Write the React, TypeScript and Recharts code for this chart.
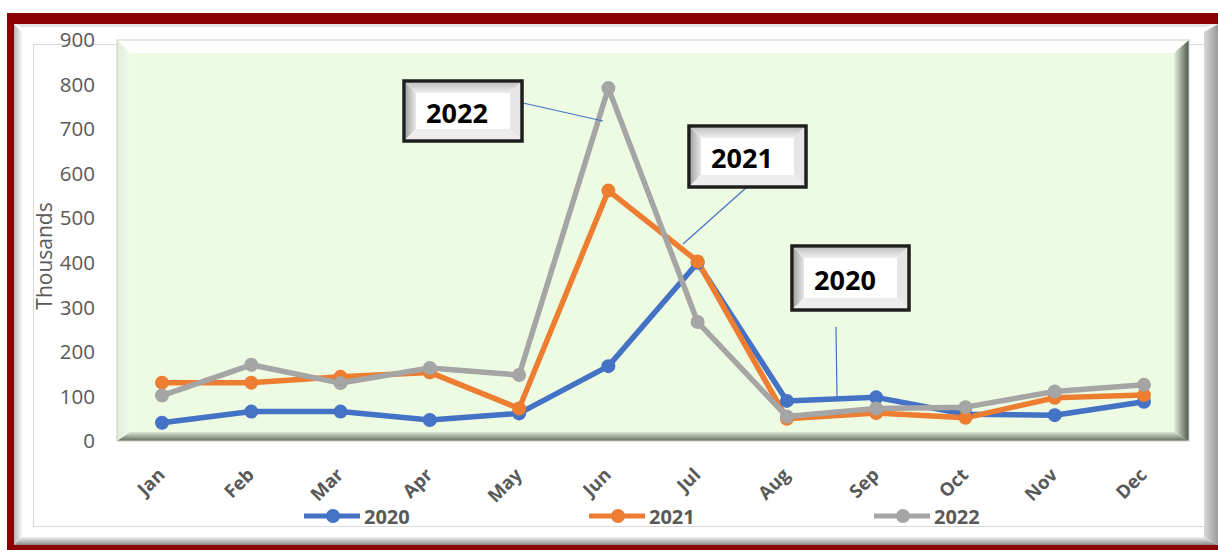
import React from 'react';
import { LineChart, Line, XAxis, YAxis, Legend } from 'recharts';

const months = ['Jan', 'Feb', 'Mar', 'Apr', 'May', 'Jun', 'Jul', 'Aug', 'Sep', 'Oct', 'Nov', 'Dec'];
const s2020 = [41, 66, 66, 47, 62, 168, 400, 90, 98, 60, 58, 88];
const s2021 = [131, 131, 144, 154, 73, 562, 403, 50, 63, 52, 97, 103];
const s2022 = [102, 171, 130, 164, 148, 792, 267, 55, 73, 76, 111, 126];
const yTicks = [0, 100, 200, 300, 400, 500, 600, 700, 800, 900];
const seriesNames = ['2020', '2021', '2022'];
const seriesColors = ['#4472C4', '#ED7D31', '#A5A5A5'];

const data = months.map((m, i) => ({ month: m, '2020': s2020[i], '2021': s2021[i], '2022': s2022[i] }));

const FONT = '"Open Sans", "Liberation Sans", sans-serif';
const GREY = '#595959';

const XTick = (props: any) => {
  const { x, y, payload } = props;
  const ax = x + 4;
  const ay = y + 35;
  return (
    <text
      x={ax}
      y={ay}
      textAnchor="end"
      transform={`rotate(-45, ${ax}, ${ay})`}
      fontFamily={FONT}
      fontWeight={700}
      fontSize={18.5}
      fill={GREY}
    >
      {payload.value}
    </text>
  );
};

const renderLegend = () => (
  <div style={{ position: 'relative', width: 1218, height: 30 }}>
    {seriesNames.map((n, i) => (
      <div
        key={n}
        style={{ position: 'absolute', left: 304 + i * 285, top: 0, height: 30, display: 'flex', alignItems: 'center' }}
      >
        <svg width={56} height={20} style={{ display: 'block' }}>
          <line x1={0} y1={10} x2={56} y2={10} stroke={seriesColors[i]} strokeWidth={5} />
          <circle cx={29} cy={10} r={7} fill={seriesColors[i]} />
        </svg>
        <span style={{ marginLeft: 4, fontFamily: FONT, fontWeight: 700, fontSize: 20, color: GREY }}>{n}</span>
      </div>
    ))}
  </div>
);

const Callout = ({ x, y, w, h, text }: { x: number; y: number; w: number; h: number; text: string }) => {
  const b = 12;
  return (
    <g>
      <rect x={x} y={y} width={w} height={h} fill="#ffffff" stroke="#1e1e1e" strokeWidth={3.5} />
      <polygon
        points={`${x + 2},${y + 2} ${x + b},${y + b} ${x + b},${y + h - b} ${x + 2},${y + h - 2}`}
        fill="url(#cLeft)"
      />
      <polygon
        points={`${x + 2},${y + 2} ${x + w - 2},${y + 2} ${x + w - b},${y + b} ${x + b},${y + b}`}
        fill="url(#cTop)"
      />
      <polygon
        points={`${x + w - 2},${y + 2} ${x + w - b},${y + b} ${x + w - b},${y + h - b} ${x + w - 2},${y + h - 2}`}
        fill="#e6e6e6"
      />
      <polygon
        points={`${x + 2},${y + h - 2} ${x + b},${y + h - b} ${x + w - b},${y + h - b} ${x + w - 2},${y + h - 2}`}
        fill="#ededed"
      />
      <text
        x={x + 53}
        y={y + h / 2 + 1}
        dominantBaseline="central"
        textAnchor="middle"
        fontFamily={FONT}
        fontWeight={700}
        fontSize={27}
        fill="#000"
      >
        {text}
      </text>
    </g>
  );
};

export default function App() {
  return (
    <div style={{ position: 'absolute', left: 0, top: 0, width: 1218, height: 550, overflow: 'hidden', background: '#fff' }}>
      <svg width={1218} height={550} style={{ position: 'absolute', left: 0, top: 0 }}>
        <defs>
          <linearGradient id="fLeft" x1="0" y1="0" x2="1" y2="0">
            <stop offset="0" stopColor="#b5b5b5" />
            <stop offset="1" stopColor="#f7f7f7" />
          </linearGradient>
          <linearGradient id="fBottom" x1="0" y1="0" x2="0" y2="1">
            <stop offset="0" stopColor="#f2f2f2" />
            <stop offset="1" stopColor="#8a8a8a" />
          </linearGradient>
          <linearGradient id="fRight" x1="0" y1="0" x2="1" y2="0">
            <stop offset="0" stopColor="#d8d8d8" />
            <stop offset="1" stopColor="#9a9a9a" />
          </linearGradient>
          <linearGradient id="pRight" x1="0" y1="0" x2="1" y2="0">
            <stop offset="0" stopColor="#e6f2dc" />
            <stop offset="1" stopColor="#4d554a" />
          </linearGradient>
          <linearGradient id="pBottom" x1="0" y1="0" x2="0" y2="1">
            <stop offset="0" stopColor="#dbe6d2" />
            <stop offset="1" stopColor="#636c5f" />
          </linearGradient>
          <linearGradient id="pLeft" x1="0" y1="0" x2="1" y2="0">
            <stop offset="0" stopColor="#e2ecda" />
            <stop offset="1" stopColor="#f2fced" />
          </linearGradient>
        </defs>
        <rect x={7} y={13} width={1215} height={540} fill="#8B0000" />
        <rect x={14} y={24} width={1210} height={521} fill="#ffffff" />
        <polygon points="14,24 22,32 22,537 14,545" fill="url(#fLeft)" />
        <polygon points="1204,32 1218,24 1218,545 1204,537" fill="url(#fRight)" />
        <polygon points="14,545 22,537 1204,537 1218,545" fill="url(#fBottom)" />
        <polygon points="14,24 1218,24 1204,27 22,27" fill="#e4e4e4" />
        <rect x={33.5} y={44.5} width={1171} height={482} fill="none" stroke="#d9d9d9" strokeWidth={1} />

        <rect x={117} y={40} width={1072} height={401} fill="#EEFBE3" />
        <polygon points="117,40 1189,40 1174,53 130,53" fill="#ffffff" />
        <polygon points="117,40 130,53 130,432 117,441" fill="url(#pLeft)" />
        <polygon points="1189,40 1174,53 1174,432 1189,441" fill="url(#pRight)" />
        <polygon points="117,441 130,432 1174,432 1189,441" fill="url(#pBottom)" />
        <rect x={117} y={40} width={1072} height={401} fill="none" stroke="#c9d3c2" strokeWidth={1} />
      </svg>

      <div style={{ position: 'absolute', left: 0, top: 0 }}>
        <LineChart width={1218} height={550} data={data} margin={{ top: 40, right: 29, bottom: 49, left: 0 }}>
          <XAxis
            dataKey="month"
            axisLine={false}
            tickLine={false}
            tickSize={0}
            tickMargin={0}
            height={60}
            interval={0}
            padding={{ left: 45, right: 45 }}
            tick={<XTick />}
          />
          <YAxis
            width={117}
            domain={[0, 900]}
            ticks={yTicks}
            axisLine={false}
            tickLine={false}
            tickSize={0}
            tickMargin={22}
            tick={{ fontFamily: FONT, fontSize: 20.5, fill: GREY }}
            label={{
              content: () => (
                <text
                  transform="translate(52,256) rotate(-90)"
                  textAnchor="middle"
                  fontFamily={FONT}
                  fontSize={21}
                  fill={GREY}
                >
                  Thousands
                </text>
              ),
            }}
          />
          <Legend
            layout="horizontal"
            verticalAlign="middle"
            align="center"
            content={renderLegend}
            wrapperStyle={{ top: 501, left: 0, width: 1218, height: 30 }}
          />
          {seriesNames.map((n, i) => (
            <Line
              key={n}
              type="linear"
              dataKey={n}
              stroke={seriesColors[i]}
              strokeWidth={5.5}
              strokeLinejoin="round"
              dot={{ r: 7, fill: seriesColors[i], stroke: seriesColors[i], strokeWidth: 0 }}
              activeDot={false}
              isAnimationActive={false}
            />
          ))}
        </LineChart>
      </div>

      <svg width={1218} height={550} style={{ position: 'absolute', left: 0, top: 0, pointerEvents: 'none' }}>
        <defs>
          <linearGradient id="cLeft" x1="0" y1="0" x2="1" y2="0">
            <stop offset="0" stopColor="#a8a8a8" />
            <stop offset="1" stopColor="#e8e8e8" />
          </linearGradient>
          <linearGradient id="cTop" x1="0" y1="0" x2="0" y2="1">
            <stop offset="0" stopColor="#c4c4c4" />
            <stop offset="1" stopColor="#efefef" />
          </linearGradient>
        </defs>
        <line x1={523} y1={103} x2={603} y2={121} stroke="#4472C4" strokeWidth={1.2} />
        <line x1={747} y1={187} x2={683} y2={244} stroke="#4472C4" strokeWidth={1.2} />
        <line x1={836} y1={327} x2={837} y2={397} stroke="#4472C4" strokeWidth={1.2} />
        <Callout x={404} y={81} w={118} h={60} text="2022" />
        <Callout x={689} y={126} w={117} h={61} text="2021" />
        <Callout x={792} y={246} w={117} h={64} text="2020" />
      </svg>
    </div>
  );
}
